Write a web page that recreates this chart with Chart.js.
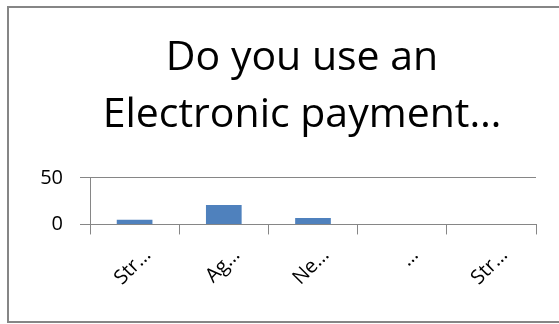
<!DOCTYPE html>
<html>
<head>
    <title>Electronic payment survey</title>
    <script src="https://cdn.jsdelivr.net/npm/chart.js"></script>
    <style>
        html, body { margin: 0; padding: 0; overflow: hidden; background: #fff; }
        #box {
            position: absolute; left: 7px; top: 6px;
            width: 586px; height: 313px;
            border: 2px solid #868686;
            background: #fff;
        }
        canvas { display: block; }
    </style>
</head>
<body>
    <div id="box"><canvas id="surveyChart"></canvas></div>

    <script>
        const titleLines = ["Do you use an", "Electronic payment\u2026"];
        const categories = ["Str\u2026", "Ag\u2026", "Ne\u2026", "\u2026", "Str\u2026"];
        const responses = [5, 21, 7, 0, 0];
        const yTicks = [0, 50];

        const fontFamily = "'Open Sans', sans-serif";
        const axisGray = '#868686';

        const ctx = document.getElementById('surveyChart').getContext('2d');
        const surveyChart = new Chart(ctx, {
            type: 'bar',
            data: {
                labels: categories,
                datasets: [{
                    data: responses,
                    backgroundColor: '#4F81BD',
                    borderWidth: 0,
                    categoryPercentage: 1,
                    barPercentage: 0.4
                }]
            },
            options: {
                responsive: true,
                maintainAspectRatio: false,
                animation: false,
                layout: { padding: { left: 0, right: 0, top: 0, bottom: 22 } },
                plugins: {
                    legend: { display: false },
                    tooltip: { enabled: false },
                    title: {
                        display: true,
                        text: titleLines,
                        color: '#000',
                        font: { family: fontFamily, size: 41, weight: 'normal', lineHeight: 1.39 },
                        padding: { top: 22, bottom: 34 }
                    }
                },
                scales: {
                    x: {
                        grid: {
                            offset: true,
                            drawOnChartArea: false,
                            drawTicks: true,
                            tickLength: 10,
                            color: axisGray
                        },
                        border: { display: true, color: axisGray, width: 1 },
                        ticks: {
                            autoSkip: false,
                            maxRotation: 45,
                            minRotation: 45,
                            labelOffset: 13,
                            padding: 9,
                            color: '#000',
                            font: { family: fontFamily, size: 20 }
                        }
                    },
                    y: {
                        min: 0,
                        max: 50,
                        afterBuildTicks: axis => { axis.ticks = yTicks.map(v => ({ value: v })); },
                        afterFit: axis => { axis.width = 81; },
                        grid: { color: axisGray, tickLength: 10 },
                        border: { display: true, color: axisGray, width: 1 },
                        ticks: {
                            autoSkip: false,
                            color: '#000',
                            padding: 17,
                            font: { family: fontFamily, size: 20 }
                        }
                    },
                    // empty right-hand gutter so the plot stops short of the frame
                    gutter: {
                        type: 'linear',
                        position: 'right',
                        display: true,
                        grid: { display: false },
                        border: { display: false },
                        ticks: { display: false },
                        afterFit: axis => { axis.width = 59; }
                    }
                }
            }
        });
    </script>
</body>
</html>
